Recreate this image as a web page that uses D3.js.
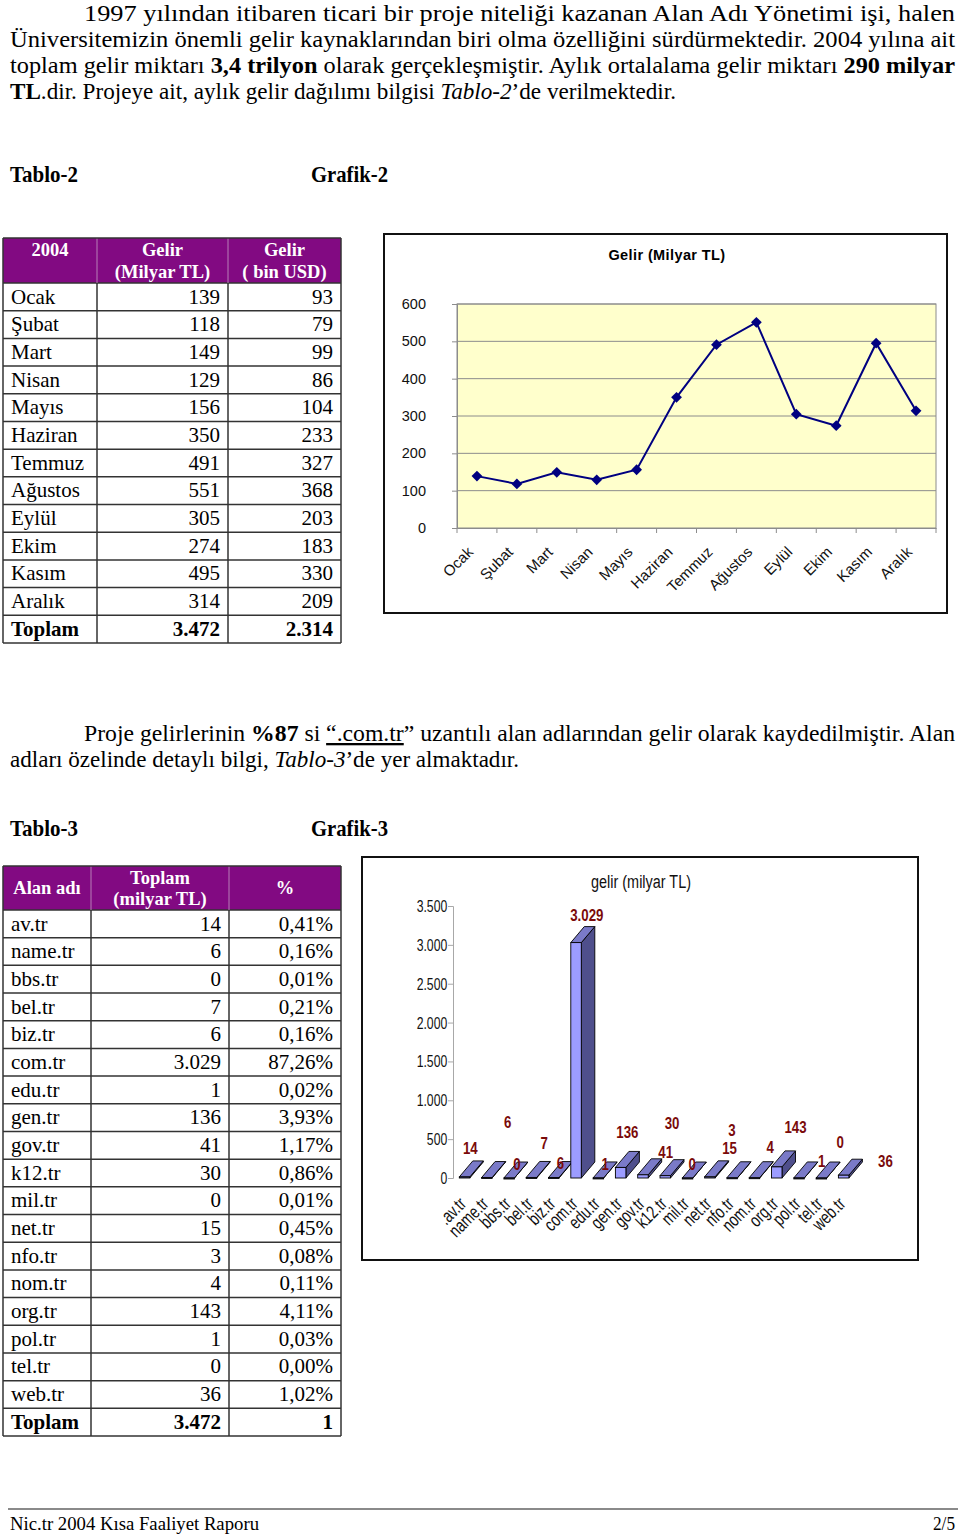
<!DOCTYPE html>
<html lang="tr">
<head>
<meta charset="utf-8">
<title>Nic.tr 2004 Kısa Faaliyet Raporu</title>
<script src="https://cdn.jsdelivr.net/npm/d3@7"></script>
<style>
body { margin: 0; background: #fff; }
svg { display: block; }
.serif { font-family: "Liberation Serif", "Times New Roman", serif; }
.sans { font-family: "Liberation Sans", Arial, sans-serif; }
</style>
</head>
<body>
<svg id="page" width="960" height="1535"></svg>
<script>
// ---- data: Tablo-2 / Grafik-2
var months = ["Ocak", "Şubat", "Mart", "Nisan", "Mayıs", "Haziran", "Temmuz", "Ağustos", "Eylül", "Ekim", "Kasım", "Aralık"];
var gelirTL = [139, 118, 149, 129, 156, 350, 491, 551, 305, 274, 495, 314];
var gelirUSD = [93, 79, 99, 86, 104, 233, 327, 368, 203, 183, 330, 209];
var toplam2 = ["3.472", "2.314"];
var lineTicks = [0, 100, 200, 300, 400, 500, 600];

// ---- data: Tablo-3 / Grafik-3
var domains = ["av.tr", "name.tr", "bbs.tr", "bel.tr", "biz.tr", "com.tr", "edu.tr", "gen.tr", "gov.tr", "k12.tr", "mil.tr", "net.tr", "nfo.tr", "nom.tr", "org.tr", "pol.tr", "tel.tr", "web.tr"];
var chartDomains = [".av.tr", "name.tr", "bbs.tr", "bel.tr", "biz.tr", "com.tr", "edu.tr", "gen.tr", "gov.tr", "k12.tr", "mil.tr", "net.tr", "nfo.tr", "nom.tr", "org.tr", "pol.tr", "tel.tr", "web.tr"];
var domainTL = [14, 6, 0, 7, 6, 3029, 1, 136, 41, 30, 0, 15, 3, 4, 143, 1, 0, 36];
var domainPct = ["0,41%", "0,16%", "0,01%", "0,21%", "0,16%", "87,26%", "0,02%", "3,93%", "1,17%", "0,86%", "0,01%", "0,45%", "0,08%", "0,11%", "4,11%", "0,03%", "0,00%", "1,02%"];
var toplam3 = ["3.472", "1"];
var barTicks = [0, 500, 1000, 1500, 2000, 2500, 3000, 3500];
// where excel dropped each data label, relative to the bar (layout only)
var labelNudge = [[11,-29],[26,-56],[13,-14],[18,-34],[12,-15],[16,-28],[12,-14],[12,-35],[28,-23],[12,-53],[10,-14],[25,-29],[5,-48],[21,-31],[24,-40],[28,-17],[24,-36],[47,-14]];

var page = d3.select("#page");
var fmt = d3.formatLocale({decimal: ",", thousands: ".", grouping: [3], currency: ["", ""]}).format(",d");

// one line of running text, squeezed/stretched to the width it has in the scan
function textLine(x, y, len, parts, size) {
  var t = page.append("text").attr("class", "serif")
    .attr("x", x).attr("y", y).attr("font-size", size || 23)
    .attr("textLength", len).attr("lengthAdjust", "spacingAndGlyphs");
  parts.forEach(function(p) {
    var s = t.append("tspan").text(p[0]);
    if (p[1] == "b") s.attr("font-weight", "bold");
    if (p[1] == "i") s.attr("font-style", "italic");
    if (p[1] == "u") s.attr("text-decoration", "underline");
  });
  return t;
}

// ---- running text
textLine(84, 21, 871, [["1997 yılından itibaren ticari bir proje niteliği kazanan Alan Adı Yönetimi işi, halen"]]);
textLine(10, 47, 945, [["Üniversitemizin önemli gelir kaynaklarından biri olma özelliğini sürdürmektedir. 2004 yılına ait"]]);
textLine(10, 73, 945, [["toplam gelir miktarı "], ["3,4 trilyon", "b"], [" olarak gerçekleşmiştir. Aylık ortalalama gelir miktarı "], ["290 milyar", "b"]]);
textLine(10, 99, 666, [["TL", "b"], [".dir. Projeye ait, aylık gelir dağılımı bilgisi "], ["Tablo-2", "i"], ["’de verilmektedir."]]);

textLine(10, 182, 68, [["Tablo-2", "b"]]);
textLine(311, 182, 77, [["Grafik-2", "b"]]);

textLine(84, 741, 871, [["Proje gelirlerinin "], ["%87", "b"], [" si "], ["“.com.tr", "u"], ["” uzantılı alan adlarından gelir olarak kaydedilmiştir. Alan"]]);
textLine(10, 767, 509, [["adları özelinde detaylı bilgi, "], ["Tablo-3", "i"], ["’de yer almaktadır."]]);

textLine(10, 836, 68, [["Tablo-3", "b"]]);
textLine(311, 836, 77, [["Grafik-3", "b"]]);

// footer
page.append("line").attr("x1", 8).attr("x2", 958).attr("y1", 1509).attr("y2", 1509)
  .attr("stroke", "#8a8a8a").attr("stroke-width", 2);
textLine(10, 1530, 249, [["Nic.tr 2004 Kısa Faaliyet Raporu"]], 19);
textLine(933, 1530, 22, [["2/5"]], 19);

// ---- tables
function drawTable(opt) {
  var g = page.append("g").attr("class", "serif");
  var cols = opt.cols, n = opt.rows.length;
  var rowY = d3.scaleLinear().domain([0, n]).range([opt.headBottom, opt.bottom]);
  var left = cols[0], right = cols[cols.length - 1];

  g.append("rect").attr("x", left).attr("y", opt.top)
    .attr("width", right - left).attr("height", opt.headBottom - opt.top)
    .attr("fill", "#820a82");

  // header captions
  opt.head.forEach(function(h, c) {
    var cx = (cols[c] + cols[c + 1]) / 2;
    var t = g.append("text").attr("text-anchor", "middle").attr("fill", "#fff")
      .attr("font-weight", "bold").attr("font-size", 18.5);
    h.forEach(function(s, k) {
      t.append("tspan").attr("x", cx)
        .attr("y", opt.headLines[h.length == 1 ? opt.single : k])
        .text(s);
    });
  });

  var rows = g.selectAll("g.row").data(opt.rows).enter().append("g").attr("class", "row")
    .attr("transform", function(d, i) { return "translate(0," + rowY(i) + ")"; })
    .attr("font-weight", function(d, i) { return i == n - 1 ? "bold" : "normal"; })
    .attr("font-size", 21);
  rows.append("text").attr("x", left + 8).attr("y", 20.5).text(function(d) { return d[0]; });
  rows.append("text").attr("x", cols[2] - 8).attr("y", 20.5).attr("text-anchor", "end").text(function(d) { return d[1]; });
  rows.append("text").attr("x", cols[3] - 8).attr("y", 20.5).attr("text-anchor", "end").text(function(d) { return d[2]; });

  // grid
  g.selectAll("line.h").data(d3.range(n + 1)).enter().append("line")
    .attr("x1", left).attr("x2", right)
    .attr("y1", function(i) { return rowY(i); }).attr("y2", function(i) { return rowY(i); })
    .attr("stroke", "#333").attr("stroke-width", 1.5);
  g.selectAll("line.v").data(cols).enter().append("line")
    .attr("x1", function(x) { return x; }).attr("x2", function(x) { return x; })
    .attr("y1", function(x, i) { return (i == 0 || i == cols.length - 1) ? opt.top : opt.headBottom; })
    .attr("y2", opt.bottom)
    .attr("stroke", "#333").attr("stroke-width", 1.5);
  g.selectAll("line.hv").data(cols.slice(1, -1)).enter().append("line")
    .attr("x1", function(x) { return x; }).attr("x2", function(x) { return x; })
    .attr("y1", opt.top).attr("y2", opt.headBottom)
    .attr("stroke", "#b77fb7").attr("stroke-width", 1);
  g.append("line").attr("x1", left).attr("x2", right).attr("y1", opt.top).attr("y2", opt.top)
    .attr("stroke", "#333").attr("stroke-width", 1.5);
}

var rows2 = months.map(function(m, i) { return [m, fmt(gelirTL[i]), fmt(gelirUSD[i])]; });
rows2.push(["Toplam", toplam2[0], toplam2[1]]);
drawTable({cols: [3, 97, 228, 341], top: 238, headBottom: 283, headLines: [256, 278], single: 0, bottom: 643,
  head: [["2004"], ["Gelir", "(Milyar TL)"], ["Gelir", "( bin USD)"]], rows: rows2});

var rows3 = domains.map(function(d, i) { return [d, fmt(domainTL[i]), domainPct[i]]; });
rows3.push(["Toplam", toplam3[0], toplam3[1]]);
drawTable({cols: [3, 91, 229, 341], top: 866, headBottom: 910, headLines: [884, 905, 894], single: 2, bottom: 1436,
  head: [["Alan adı"], ["Toplam", "(milyar TL)"], ["%"]], rows: rows3});

// ---- Grafik-2 : line chart
var lc = page.append("g").attr("class", "sans");
lc.append("rect").attr("x", 384).attr("y", 234).attr("width", 563).attr("height", 379)
  .attr("fill", "#fff").attr("stroke", "#111").attr("stroke-width", 2);
lc.append("text").attr("x", 667).attr("y", 260).attr("text-anchor", "middle")
  .attr("font-weight", "bold").attr("font-size", 14.5).attr("letter-spacing", 0.4)
  .text("Gelir (Milyar TL)");

var xL = d3.scaleBand().domain(months).range([457, 936]);
var yL = d3.scaleLinear().domain([0, 600]).range([528, 304]);

lc.append("rect").attr("x", 457).attr("y", yL(600)).attr("width", 936 - 457).attr("height", yL(0) - yL(600))
  .attr("fill", "#ffffcc").attr("stroke", "#8c8c8c");
lc.selectAll("line.grid").data(lineTicks.slice(1)).enter().append("line")
  .attr("x1", 457).attr("x2", 936)
  .attr("y1", function(d) { return yL(d); }).attr("y2", function(d) { return yL(d); })
  .attr("stroke", "#8c8c8c");

var yAxisL = lc.append("g").attr("transform", "translate(457,0)")
  .call(d3.axisLeft(yL).tickValues(lineTicks).tickSize(5).tickPadding(26));
yAxisL.select(".domain").attr("stroke", "#8c8c8c");
yAxisL.selectAll(".tick line").attr("stroke", "#8c8c8c");
yAxisL.selectAll("text").attr("font-size", 14.5).attr("fill", "#111").attr("font-family", "Liberation Sans, Arial, sans-serif");

var xAxisL = lc.append("g").attr("transform", "translate(0,528)")
  .call(d3.axisBottom(xL).tickSize(0).tickFormat(""));
xAxisL.select(".domain").attr("stroke", "#8c8c8c");
lc.selectAll("line.xt").data(months.concat(["end"])).enter().append("line")
  .attr("x1", function(d) { return d == "end" ? 936 : xL(d); })
  .attr("x2", function(d) { return d == "end" ? 936 : xL(d); })
  .attr("y1", 528).attr("y2", 533).attr("stroke", "#8c8c8c");
lc.selectAll("text.xl").data(months).enter().append("text")
  .attr("text-anchor", "end").attr("font-size", 15).attr("fill", "#111")
  .attr("transform", function(d) { return "translate(" + (xL(d) + xL.bandwidth() / 2 - 3) + ",553) rotate(-45)"; })
  .text(function(d) { return d; });

var line = d3.line()
  .x(function(d, i) { return xL(months[i]) + xL.bandwidth() / 2; })
  .y(function(d) { return yL(d); });
lc.append("path").datum(gelirTL).attr("d", line)
  .attr("fill", "none").attr("stroke", "#000080").attr("stroke-width", 2);
lc.selectAll("path.mk").data(gelirTL).enter().append("path")
  .attr("d", d3.symbol(d3.symbolSquare, 58))
  .attr("fill", "#000080")
  .attr("transform", function(d, i) {
    return "translate(" + (xL(months[i]) + xL.bandwidth() / 2) + "," + yL(d) + ") rotate(45)";
  });

// ---- Grafik-3 : 3D-looking column chart
var bc = page.append("g").attr("class", "sans");
bc.append("rect").attr("x", 362).attr("y", 857).attr("width", 556).attr("height", 403)
  .attr("fill", "#fff").attr("stroke", "#111").attr("stroke-width", 2);
bc.append("text").attr("transform", "translate(641,888) scale(0.76,1)")
  .attr("text-anchor", "middle").attr("font-size", 19).attr("fill", "#111")
  .text("gelir (milyar TL)");

var xB = d3.scaleBand().domain(chartDomains).range([453, 453 + 18 * 22.3]);
var yB = d3.scaleLinear().domain([0, 3500]).range([1178, 906]);
var bw = 10.5, ddx = 13.5, ddy = 16;

var yAxisB = bc.append("g").attr("transform", "translate(453,0)")
  .call(d3.axisLeft(yB).tickValues(barTicks).tickSize(5).tickPadding(3).tickFormat(fmt));
yAxisB.select(".domain").attr("stroke", "#a8a8a8");
yAxisB.selectAll(".tick line").attr("stroke", "#a8a8a8");
yAxisB.selectAll("text").attr("font-size", 17).attr("fill", "#111")
  .attr("font-family", "Liberation Sans, Arial, sans-serif")
  .attr("transform", "scale(0.72,1)");

var bars = bc.selectAll("g.bar").data(domainTL).enter().append("g").attr("class", "bar")
  .attr("transform", function(d, i) { return "translate(" + (xB(chartDomains[i]) + 6.3) + ",0)"; });
bars.append("path").attr("fill", "#4f4f8c").attr("stroke", "#000").attr("stroke-width", 0.9)
  .attr("d", function(d) {
    var yt = yB(d), y0 = yB(0);
    return "M" + bw + "," + yt + "L" + (bw + ddx) + "," + (yt - ddy) + "L" + (bw + ddx) + "," + (y0 - ddy) + "L" + bw + "," + y0 + "Z";
  });
bars.append("path").attr("fill", "#7a7ac8").attr("stroke", "#000").attr("stroke-width", 0.9)
  .attr("d", function(d) {
    var yt = yB(d);
    return "M0," + yt + "L" + bw + "," + yt + "L" + (bw + ddx) + "," + (yt - ddy) + "L" + ddx + "," + (yt - ddy) + "Z";
  });
bars.append("rect").attr("x", 0).attr("width", bw)
  .attr("y", function(d) { return yB(d); })
  .attr("height", function(d) { return Math.max(1, yB(0) - yB(d)); })
  .attr("fill", "#9c9cff").attr("stroke", "#000").attr("stroke-width", 0.9);

bc.selectAll("text.val").data(domainTL).enter().append("text")
  .attr("text-anchor", "middle").attr("font-weight", "bold").attr("font-size", 17)
  .attr("fill", "#7a0a0a")
  .attr("transform", function(d, i) {
    var x = xB(chartDomains[i]) + 6.3 + labelNudge[i][0];
    var y = yB(d) + labelNudge[i][1] + 6;
    return "translate(" + x + "," + y + ") scale(0.78,1)";
  })
  .text(function(d) { return fmt(d); });

bc.selectAll("text.cat").data(chartDomains).enter().append("text")
  .attr("text-anchor", "end").attr("font-size", 18.5).attr("fill", "#111")
  .attr("transform", function(d) {
    return "translate(" + (xB(d) + 6.3 + 8) + ",1205) rotate(-45) scale(0.75,1)";
  })
  .text(function(d) { return d; });
</script>
</body>
</html>
